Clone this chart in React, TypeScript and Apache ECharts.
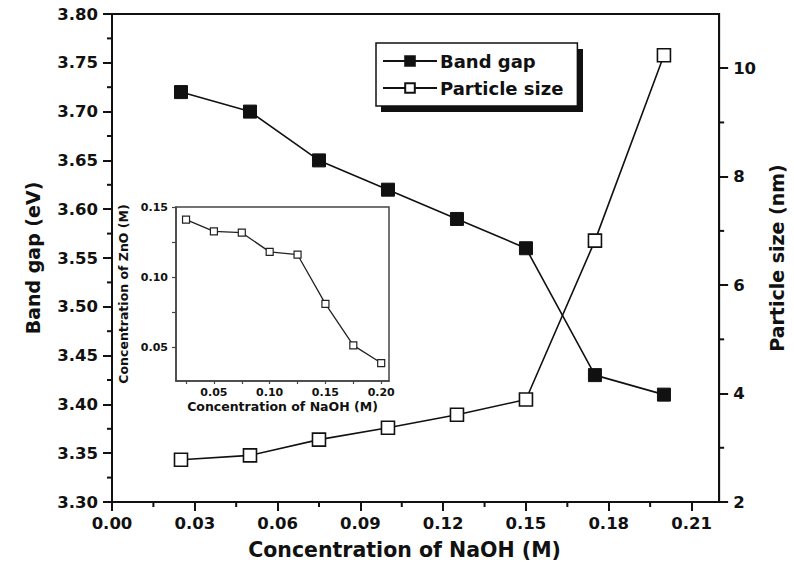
import React, { useEffect, useRef } from "react";
import * as echarts from "echarts";

const naoh = [0.025, 0.05, 0.075, 0.1, 0.125, 0.15, 0.175, 0.2];
const bandGap = [3.72, 3.7, 3.65, 3.62, 3.59, 3.56, 3.43, 3.41];
const particleSize = [2.78, 2.86, 3.15, 3.37, 3.61, 3.89, 6.82, 10.24];
const znoConc = [0.141, 0.1326, 0.1317, 0.118, 0.116, 0.081, 0.0514, 0.0388];

const xMajorTicks = [0, 0.03, 0.06, 0.09, 0.12, 0.15, 0.18, 0.21];
const xMinorTicks = [0.015, 0.045, 0.075, 0.105, 0.135, 0.165, 0.195];
const yLeftMajorTicks = [3.3, 3.35, 3.4, 3.45, 3.5, 3.55, 3.6, 3.65, 3.7, 3.75, 3.8];
const yLeftMinorTicks = [3.325, 3.375, 3.425, 3.475, 3.525, 3.575, 3.625, 3.675, 3.725, 3.775];
const yRightMajorTicks = [2, 4, 6, 8, 10];
const yRightMinorTicks = [3, 5, 7, 9];
const insetXLabels = [0.05, 0.1, 0.15, 0.2];
const insetXTicks = [0.025, 0.05, 0.075, 0.1, 0.125, 0.15, 0.175, 0.2];
const insetYLabels = [0.05, 0.1, 0.15];
const insetYTicks = [0.05, 0.075, 0.1, 0.125, 0.15];

const X_MIN = 0, X_MAX = 0.22;
const YL_MIN = 3.3, YL_MAX = 3.8;
const YR_MIN = 2, YR_MAX = 11;

const FONT = "DejaVu Sans";
const INK = "#111";

export default function App() {
  const ref = useRef<HTMLDivElement>(null);
  useEffect(() => {
    if (!ref.current) return;
    const chart = echarts.init(ref.current, undefined, { renderer: "svg" });
    const lbl = (size: number) => ({
      fontFamily: FONT,
      fontWeight: "bold" as const,
      fontSize: size,
      color: INK,
    });
    const noSplit = { show: false };
    const MINOR_LEN = 5;
    // minor tick marks drawn through the axes' own scales
    const minorSeries = (
      yAxisIndex: number,
      points: number[][],
      dx: number,
      dy: number
    ) => ({
      type: "custom",
      xAxisIndex: 0,
      yAxisIndex,
      silent: true,
      clip: false,
      z: 4,
      data: points,
      renderItem: (params: any, api: any) => {
        const p = api.coord([api.value(0), api.value(1)]);
        return {
          type: "line",
          shape: { x1: p[0], y1: p[1], x2: p[0] + dx, y2: p[1] + dy },
          style: { stroke: INK, lineWidth: 2 },
        };
      },
    });
    const option: any = {
      animation: false,
      backgroundColor: "#fff",
      grid: [
        { left: 112, top: 14, right: 73, bottom: 72, show: true, borderColor: INK, borderWidth: 2 },
        { left: 176, top: 207, width: 213, height: 174, show: true, borderColor: "#444", borderWidth: 1.5, backgroundColor: "#fff", z: 5 },
      ],
      legend: {
        orient: "vertical",
        left: 376,
        top: 43,
        padding: [9, 14, 9, 6],
        itemGap: 9,
        itemWidth: 54,
        itemHeight: 12,
        borderColor: INK,
        borderWidth: 1.5,
        backgroundColor: "#fff",
        textStyle: { ...lbl(18), padding: [0, 0, 0, -2] },
        data: ["Band gap", "Particle size"],
        z: 10,
      },
      graphic: [
        { type: "rect", shape: { x: 381, y: 49, width: 202, height: 63 }, style: { fill: INK }, z: 9 },
      ],
      xAxis: [
        {
          type: "value", gridIndex: 0, min: X_MIN, max: X_MAX, position: "bottom",
          name: "Concentration of NaOH (M)", nameLocation: "middle", nameGap: 37,
          nameTextStyle: { ...lbl(20.5), padding: [0, 22, 0, 0] },
          axisLine: { show: true, lineStyle: { color: INK, width: 2 } },
          axisTick: { show: true, inside: false, length: 9, lineStyle: { color: INK, width: 2 }, customValues: xMajorTicks },
          axisLabel: { ...lbl(16.5), margin: 13, customValues: xMajorTicks, formatter: (v: number) => v.toFixed(2) },
          splitLine: noSplit,
        },
        {
          type: "value", gridIndex: 1, min: 0.016, max: 0.207, position: "bottom",
          name: "Concentration of NaOH (M)", nameLocation: "middle", nameGap: 19,
          nameTextStyle: lbl(12.5),
          axisLine: { show: true, lineStyle: { color: "#444", width: 1.5 } },
          axisTick: { show: true, length: 3, lineStyle: { color: "#444", width: 1.2 }, customValues: insetXTicks },
          axisLabel: { ...lbl(11), margin: 6, customValues: insetXLabels, formatter: (v: number) => v.toFixed(2) },
          splitLine: noSplit,
          z: 6,
        },
      ],
      yAxis: [
        {
          type: "value", gridIndex: 0, min: YL_MIN, max: YL_MAX, position: "left",
          name: "Band gap (eV)", nameLocation: "middle", nameGap: 70, nameRotate: 90,
          nameTextStyle: lbl(19),
          axisLine: { show: true, lineStyle: { color: INK, width: 2 } },
          axisTick: { show: true, length: 9, lineStyle: { color: INK, width: 2 }, customValues: yLeftMajorTicks },
          axisLabel: { ...lbl(16.5), margin: 14, customValues: yLeftMajorTicks, formatter: (v: number) => v.toFixed(2) },
          splitLine: noSplit,
        },
        {
          type: "value", gridIndex: 0, min: YR_MIN, max: YR_MAX, position: "right",
          name: "Particle size (nm)", nameLocation: "middle", nameGap: 40, nameRotate: 90,
          nameTextStyle: lbl(19),
          axisLine: { show: true, lineStyle: { color: INK, width: 2 } },
          axisTick: { show: true, length: 9, lineStyle: { color: INK, width: 2 }, customValues: yRightMajorTicks },
          axisLabel: { ...lbl(16.5), margin: 14, customValues: yRightMajorTicks },
          splitLine: noSplit,
        },
        {
          type: "value", gridIndex: 1, min: 0.026, max: 0.15, position: "left",
          name: "Concentration of ZnO (M)", nameLocation: "middle", nameGap: 46, nameRotate: 90,
          nameTextStyle: lbl(12.5),
          axisLine: { show: true, lineStyle: { color: "#444", width: 1.5 } },
          axisTick: { show: true, length: 4, lineStyle: { color: "#444", width: 1.2 }, customValues: insetYTicks },
          axisLabel: { ...lbl(11), margin: 8, customValues: insetYLabels, formatter: (v: number) => v.toFixed(2) },
          splitLine: noSplit,
          z: 6,
        },
      ],
      series: [
        {
          name: "Band gap", type: "line", xAxisIndex: 0, yAxisIndex: 0,
          data: naoh.map((x, i) => [x, bandGap[i]]),
          symbol: "rect", symbolSize: 13,
          lineStyle: { color: INK, width: 1.6 },
          itemStyle: { color: INK, borderColor: INK, borderWidth: 1 },
          z: 3,
        },
        {
          name: "Particle size", type: "line", xAxisIndex: 0, yAxisIndex: 1,
          data: naoh.map((x, i) => [x, particleSize[i]]),
          symbol: "rect", symbolSize: 13,
          lineStyle: { color: INK, width: 1.6 },
          itemStyle: { color: "#fff", borderColor: INK, borderWidth: 1.6 },
          z: 3,
        },
        {
          name: "ZnO", type: "line", xAxisIndex: 1, yAxisIndex: 2,
          data: naoh.map((x, i) => [x, znoConc[i]]),
          symbol: "rect", symbolSize: 7,
          lineStyle: { color: "#222", width: 1.3 },
          itemStyle: { color: "#fff", borderColor: "#222", borderWidth: 1.2 },
          z: 7,
        },
        minorSeries(0, xMinorTicks.map((v) => [v, YL_MIN]), 0, MINOR_LEN),
        minorSeries(0, yLeftMinorTicks.map((v) => [X_MIN, v]), -MINOR_LEN, 0),
        minorSeries(1, yRightMinorTicks.map((v) => [X_MAX, v]), MINOR_LEN, 0),
      ],
    };
    chart.setOption(option);
    return () => chart.dispose();
  }, []);
  return (
    <div
      ref={ref}
      style={{ position: "fixed", left: 0, top: 0, width: 794, height: 574, background: "#fff" }}
    />
  );
}
